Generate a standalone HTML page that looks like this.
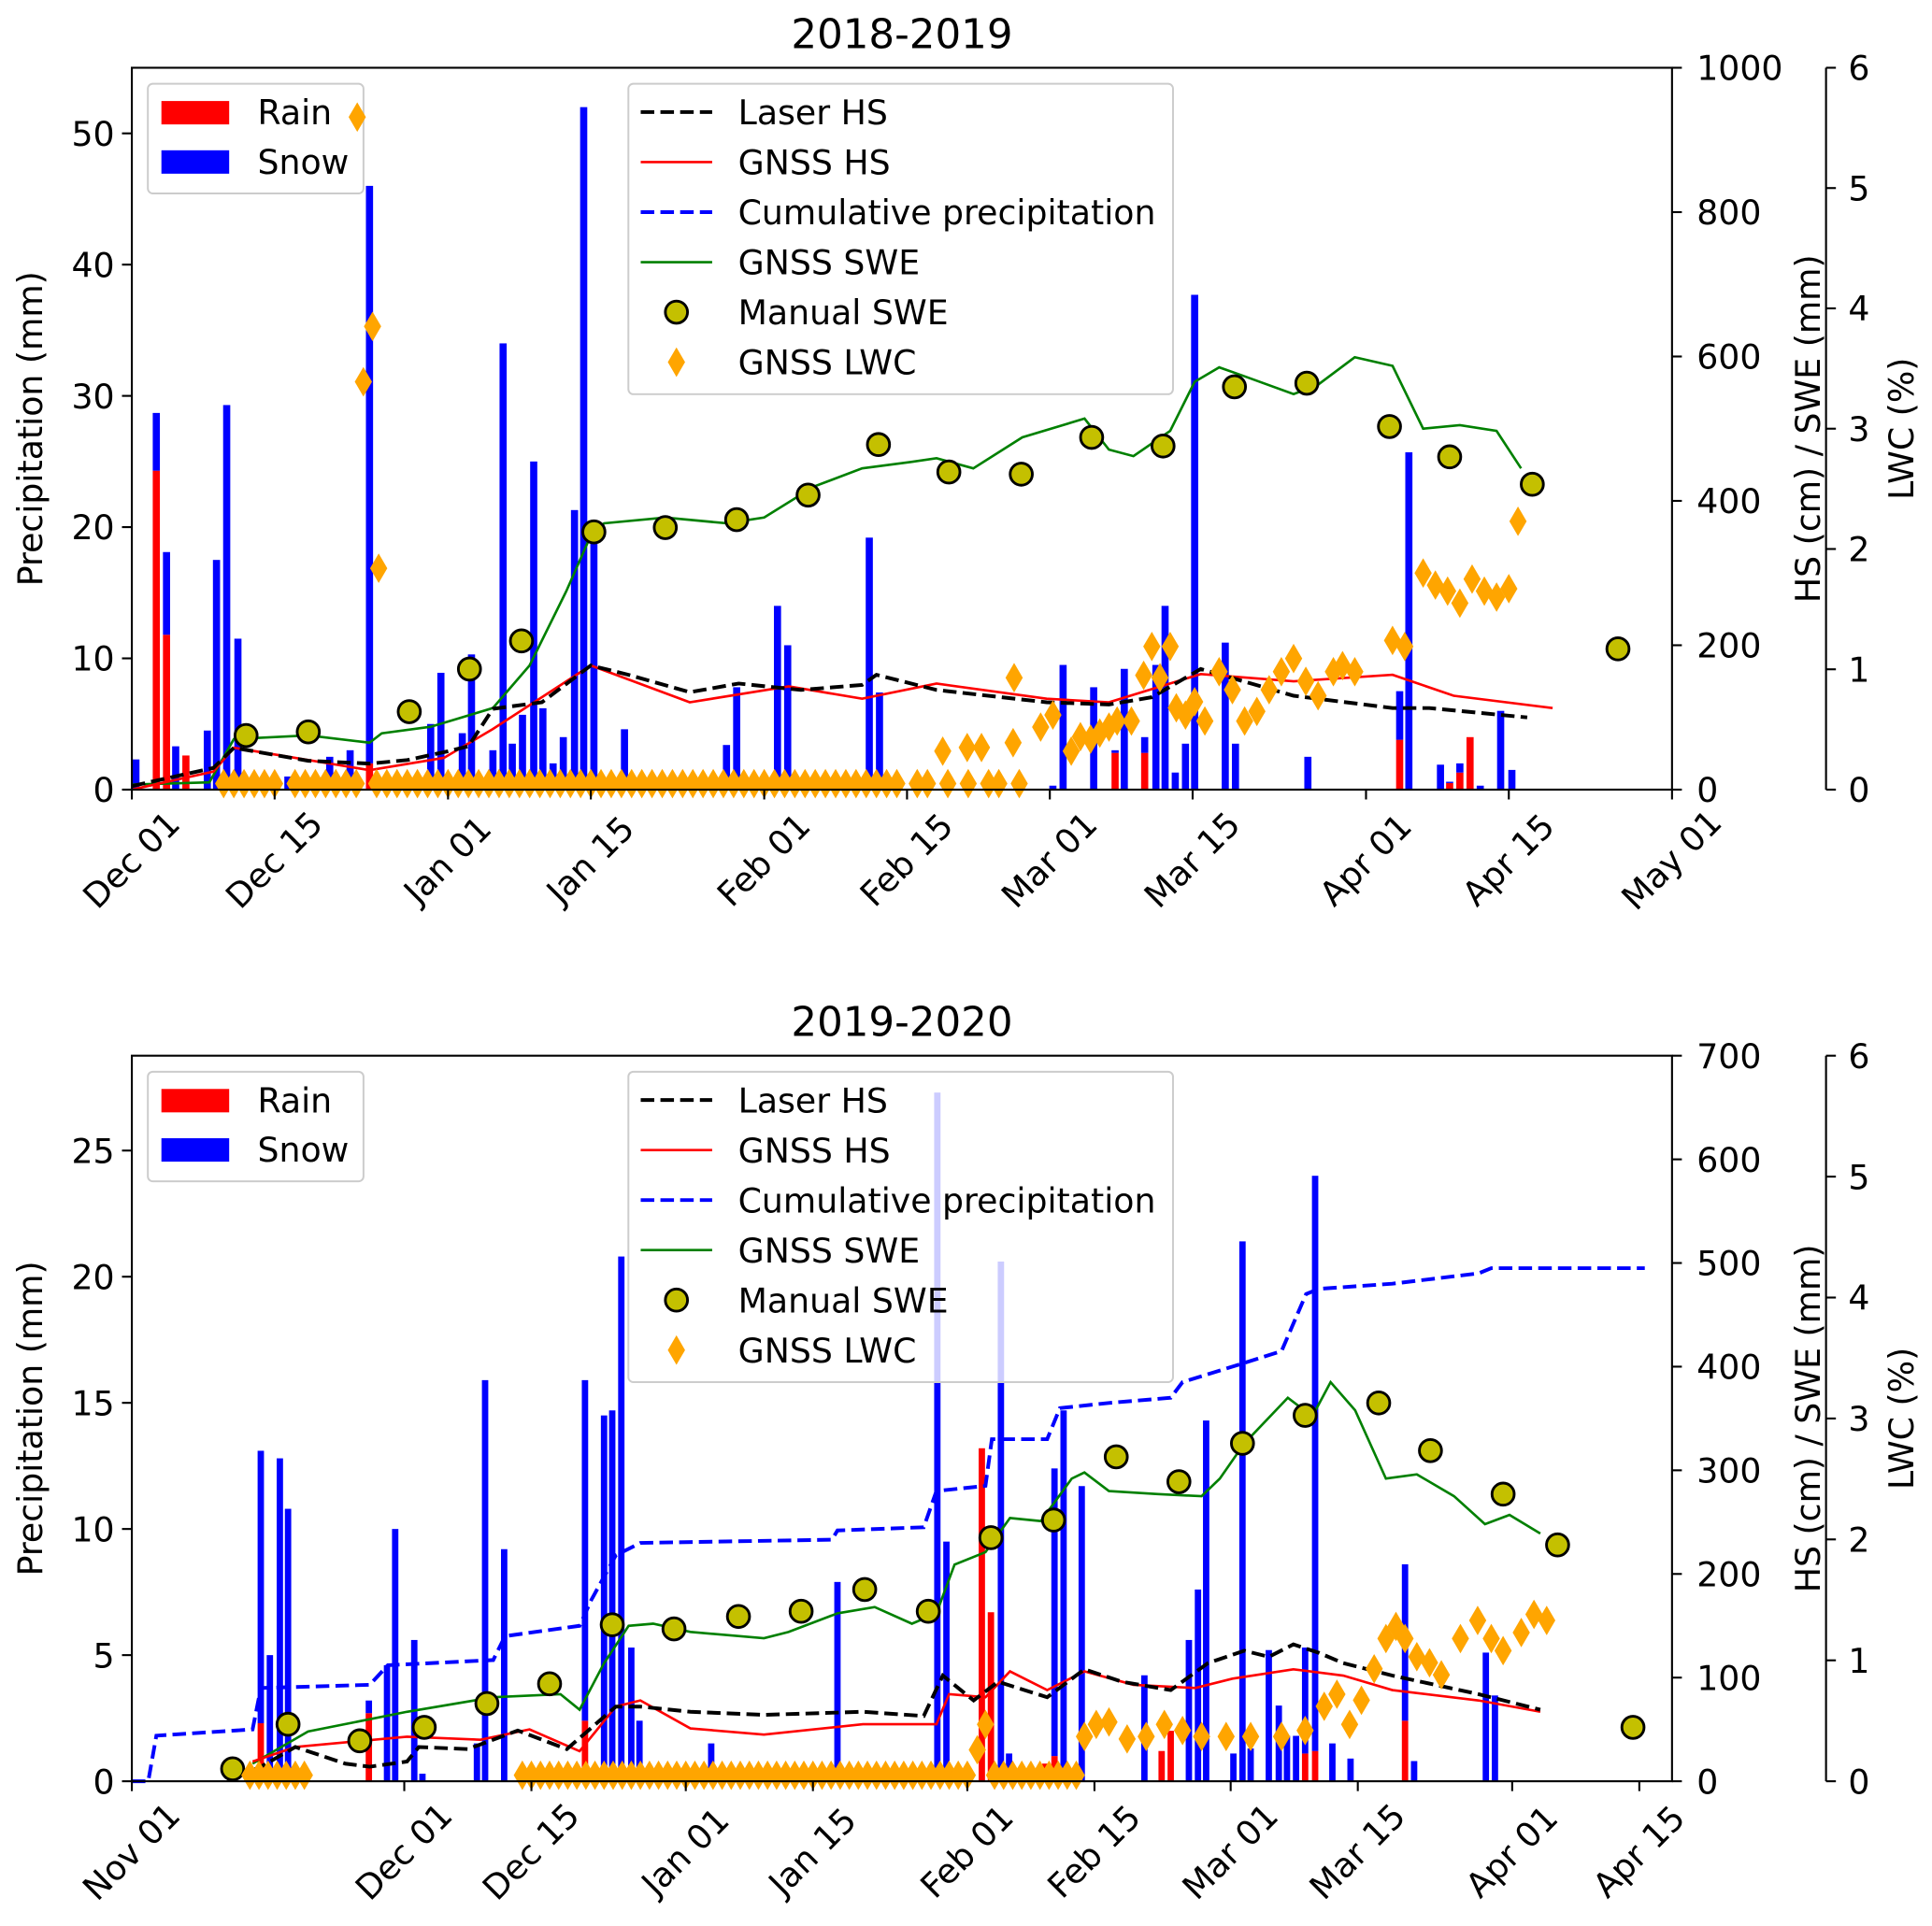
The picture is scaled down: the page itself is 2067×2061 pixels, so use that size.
<!DOCTYPE html>
<html><head><meta charset="utf-8">
<style>
html,body{margin:0;padding:0;background:#fff;}
svg{display:block;font-family:"DejaVu Sans","Liberation Sans",sans-serif;}
</style></head>
<body>
<svg id="chart" xmlns="http://www.w3.org/2000/svg" width="2067" height="2061" viewBox="0 0 1568 1563.5" preserveAspectRatio="none"></svg>
<script>
// ---------- TOP PANEL DATA (2018-2019), days since Dec 01 ----------
const topTickDays = [0,14,31,45,62,76,90,104,121,135,151];
const topTickLabels = ["Dec 01","Dec 15","Jan 01","Jan 15","Feb 01","Feb 15","Mar 01","Mar 15","Apr 01","Apr 15","May 01"];
const topLeftTicks = [0,10,20,30,40,50];
const topRightTicks = [0,200,400,600,800,1000];
const topBarDays = [0.4,2.4,3.4,4.3,5.3,7.4,8.3,9.3,10.4,15.3,19.4,21.4,23.3,29.3,30.3,32.4,33.3,35.4,36.4,37.3,38.3,39.4,40.3,41.3,42.3,43.4,44.3,45.3,48.3,56.3,58.3,59.3,63.3,64.3,65.3,72.3,73.3,90.3,91.3,94.3,96.4,97.3,99.3,100.4,101.3,102.3,103.3,104.2,107.2,108.2,115.3,124.3,125.2,128.3,129.2,130.2,131.2,132.2,134.2,135.3];
const topSnow = [2.3,4.4,6.3,3.3,0,4.5,17.5,29.3,11.5,1.0,2.5,3.0,44,5,8.9,4.3,10.3,3,34,3.5,5.7,25,6.2,2,4,21.3,52,19.5,4.6,0.8,3.4,7.8,14,11,0.5,19.2,7.4,0.3,9.5,7.8,0.2,9.2,1.2,9.5,14,1.3,3.5,37.7,11.2,3.5,2.5,3.7,25.7,1.9,0.1,0.7,0,0.3,6,1.5];
const topRain = [0,24.3,11.8,0,2.6,0,0,0,0,0,0,0,2,0,0,0,0,0,0,0,0,0,0,0,0,0,0,0,0,0,0,0,0,0,0,0,0,0,0,0,2.8,0,2.8,0,0,0,0,0,0,0,0,3.8,0,0,0.5,1.3,4,0,0,0];
const topLaserDays = [0,8,10,17.3,23.3,27,31,33,35.4,40.2,45,48.7,54.7,59.5,65.6,71.6,73,78.9,89.7,95.8,100,104.8,113.9,123.6,127.2,136.8];
const topLaserVals = [5,30,58,40,36,41,53,60,112,121,172,159,135,147,138,145,159,138,121,118,128,167,130,113,113,100];
const topGhsDays = [0,8,10,23.3,30.6,35.4,45,54.7,64.4,71.6,78.9,89.7,95.8,104.8,113.9,123.6,129.6,139.3];
const topGhsVals = [0,25,58,27,44,84,172,121,143,126,147,126,121,160,150,159,130,113];
const topSweDays = [0,7.6,10,17.3,23.3,24.5,29.3,35.4,39,42.6,45,46.3,52.3,58.3,62,66.9,71.6,76.4,78.9,82.5,87.3,93.4,95.8,98.2,101.8,104.2,106.6,109,113.9,116.3,119.9,123.6,126.6,130.2,133.8,136.2];
const topSweVals = [7,10,70,75,65,78,87,113,172,275,352,369,377,369,377,420,445,454,459,445,488,514,471,462,497,565,585,573,548,561,599,587,500,505,497,445];
const topManDays = [11.2,17.3,27.2,33.1,38.2,45.3,52.3,59.3,66.3,73.2,80.1,87.2,94.1,101.1,108.1,115.2,123.3,129.2,137.3,145.7];
const topManVals = [75,80,108,167,206,357,363,374,408,478,440,437,488,476,558,563,503,461,423,195];
const topLwcZeroDays = [9,10,11,12,13,14,16,17,18,19,20,21,22,24,25,26,27,28,29,30,31,32,33,34,35,36,37,38,39,40,41,42,43,44,45,46,47,48,49,50,51,52,53,54,55,56,57,58,59,60,61,62,63,64,65,66,67,68,69,70,71,72,73,74,75,77,78,80,82,84,85,87];
const topLwcDays = [22.1,23.6,22.7,24.2,79.5,81.9,83.3,86.4,86.5,89.1,90.3,92.1,93,94,94.9,95.8,96.6,98,99.2,100,100.8,101.8,102.4,103.3,104.2,105.2,106.6,107.9,109.1,110.3,111.5,112.7,113.9,115.1,116.3,117.8,118.7,119.9,123.6,124.8,126.6,127.8,129,130.2,131.4,132.6,133.8,135,135.9];
const topLwcVals = [5.59,3.85,3.39,1.84,0.32,0.35,0.35,0.39,0.93,0.52,0.62,0.32,0.44,0.42,0.47,0.52,0.57,0.57,0.95,1.19,0.93,1.19,0.68,0.62,0.73,0.57,0.98,0.83,0.57,0.65,0.83,0.98,1.09,0.9,0.78,0.98,1.03,0.98,1.24,1.19,1.8,1.7,1.65,1.55,1.75,1.65,1.6,1.67,2.23];

// ---------- BOTTOM PANEL DATA (2019-2020), days since Nov 01 ----------
const botTickDays = [0,30,44,61,75,92,106,121,135,152,166];
const botTickLabels = ["Nov 01","Dec 01","Dec 15","Jan 01","Jan 15","Feb 01","Feb 15","Mar 01","Mar 15","Apr 01","Apr 15"];
const botLeftTicks = [0,5,10,15,20,25];
const botRightTicks = [0,100,200,300,400,500,600,700];
const botBarDays = [14.2,15.2,16.3,17.2,26.1,28.1,29.0,31.1,32.0,38.0,38.9,41.0,44.0,49.9,52.0,52.9,53.9,55.0,55.9,63.8,64.9,77.7,88.7,89.7,93.6,94.6,95.7,96.6,100.6,101.6,102.6,104.6,111.5,113.4,114.4,116.4,117.4,118.3,121.3,122.3,123.2,125.2,126.3,127.2,128.2,129.2,130.3,132.2,134.2,140.2,141.2,149.1,150.1];
const botSnow = [10.8,5,12.8,10.8,0.5,4.6,10,5.6,0.3,1.5,15.9,9.2,0.4,13.5,14.5,14.7,20.8,5.3,2.4,1.5,0.5,7.9,27.3,9.5,0,0,20.6,1.1,0,11.4,14.7,11.7,4.2,0,0,5.6,7.6,14.3,1.1,21.4,1.3,5.2,3.0,1.8,1.8,4.2,22.8,1.5,0.9,6.2,0.8,5.1,3.4];
const botRain = [2.3,0,0,0,2.7,0,0,0,0,0,0,0,0,2.4,0,0,0,0,0,0,0,0,0,0,13.2,6.7,0,0,0.7,1,0,0,0,1.2,2,0,0,0,0,0,0,0,0,0,0,1.1,1.2,0,0,2.4,0,0,0];
const botCumDays = [0,1.8,2.7,13.3,14.2,26.2,28.2,39.8,41.1,49.3,50.6,53.3,56,77.1,77.7,87.2,88.6,94,94.7,100.8,102.2,107.6,114.4,115.7,121.2,126.6,129.3,130.7,138.8,148.3,149.7,166.6];
const botCumVals = [0,0,44,50,90,93,112,117,140,150,175,218,230,233,242,245,280,285,330,330,360,365,370,385,400,415,470,475,480,490,495,495];
const botSweDays = [13.3,19.4,30.3,39.8,47.2,49.3,52,54.7,57.4,61.5,69.6,72.3,77.7,81.8,85.9,88.6,90.6,94,96.7,100.1,103.5,104.9,107.6,113,117.8,119.8,122.5,127.3,130,132,134.7,138.1,141.5,145.6,149,151.7,155.1];
const botSweVals = [17,48,67,81,84,69,114,150,152,144,138,144,162,168,152,162,209,221,254,251,292,298,280,277,275,292,326,370,352,385,358,292,296,275,248,257,239];
const botManDays = [11.1,17.2,25.1,32.2,39.1,46,52.9,59.7,66.8,73.7,80.7,87.7,94.6,101.5,108.4,115.3,122.3,129.2,137.3,143,151,157,165.3];
const botManVals = [12,55,39,52,75,94,151,147,159,164,185,164,235,252,313,289,326,353,365,319,277,228,52];
const botLaserDays = [11.3,14,18,23.5,26.2,30.3,31.6,37,42.5,47.9,53.3,56,61.5,69.6,80.5,87.2,89.3,92.7,95.4,100.8,104.9,109,114.4,118.5,122.5,125.2,127.9,130.7,133.4,138.8,148.3,155.1];
const botLaserVals = [5,13,33,17,14,19,33,31,49,31,72,72,67,64,67,63,102,78,96,81,108,96,88,114,126,120,132,124,114,102,84,69];
const botGhsDays = [13.3,18,30.3,38.4,43.8,49.3,53.3,56,61.5,69.6,80.5,88.6,90,94,96.7,100.8,104.9,110.3,117.1,121.2,127.9,133.4,138.8,148.3,155.1];
const botGhsVals = [19,33,43,40,50,29,72,78,51,45,55,55,84,81,106,88,106,93,90,99,108,102,88,78,67];
const botLwcZeroDays = [13,14,15,16,17,18,19,43,44,45,46,47,48,49,50,51,52,53,54,55,56,57,58,59,60,61,62,63,64,65,66,67,68,69,70,71,72,73,74,75,76,77,78,79,80,81,82,83,84,85,86,87,88,89,90,91,92,95,96,97,98,99,100,101,102,103,104];
const botLwcDays = [93.1,94,104.9,106.2,107.6,109.6,111.7,113.7,115.7,117.8,120.5,123.2,126.6,129.2,131.3,132.7,134.1,135.4,136.8,138.1,139.2,140.2,141.5,142.9,144.2,146.3,148.2,149.7,151,153,154.4,155.8];
const botLwcVals = [0.26,0.47,0.37,0.47,0.49,0.35,0.37,0.47,0.42,0.37,0.37,0.37,0.37,0.42,0.62,0.72,0.47,0.67,0.93,1.18,1.28,1.18,1.03,0.98,0.88,1.18,1.33,1.18,1.08,1.23,1.38,1.33];

const lwcTicks = [0,1,2,3,4,5,6];

const NS = "http://www.w3.org/2000/svg";
const svg = document.getElementById('chart');
const FS = 27.5;
function el(tag, attrs, parent){
  const e = document.createElementNS(NS, tag);
  for (const k in attrs) e.setAttribute(k, attrs[k]);
  (parent||svg).appendChild(e);
  return e;
}
function txt(s, attrs, parent){ const t = el('text', attrs, parent); t.textContent = s; return t; }

function drawPanel(P){
  const g = el('g', {});
  
  
  const xS = d => P.x0 + d/P.dayMax*(P.x1-P.x0);
  const yL = v => P.yB - v/P.leftMax*(P.yB-P.yT);
  const yR = v => P.yB - v/P.rightMax*(P.yB-P.yT);
  const yW = v => P.yB - v/6*(P.yB-P.yT);
  const bw = 0.7/P.dayMax*(P.x1-P.x0);

  const bars = el('g', {}, g);
  
  
  for (let i=0;i<P.barDays.length;i++){
    const cx = xS(P.barDays[i]);
    const r = P.rain[i], s = P.snow[i];
    if (r>0){
      const b = el('rect', {x:cx-bw/2, y:yL(r), width:bw, height:yL(0)-yL(r), fill:'#ff0000'}, bars);
      
      
    }
    if (s>0){
      const b = el('rect', {x:cx-bw/2, y:yL(r+s), width:bw, height:yL(r)-yL(r+s), fill:'#0000ff'}, bars);
      
      
    }
  }
  const l1 = el('g', {}, g);
  
  
  el('rect', {x:120, y:P.yT+13, width:175, height:89, rx:4, fill:'#fff', 'fill-opacity':0.8, stroke:'#cccccc', 'stroke-width':1.5}, l1);
  const names1 = ['Rain','Snow'], cols1 = ['#ff0000','#0000ff'];
  for (let i=0;i<2;i++){
    const yy = P.yT+36+i*40;
    el('rect', {x:131, y:yy-9, width:55, height:19, fill:cols1[i]}, l1);
    const t = txt(names1[i], {x:209, y:yy+10, 'font-size':FS, fill:'#000'}, l1);
    
    
  }

  function poly(days, vals, ys, attrs, name){
    const pts = days.map((d,i)=> xS(d).toFixed(1)+','+ys(vals[i]).toFixed(1)).join(' ');
    const p = el('polyline', Object.assign({points:pts, fill:'none'}, attrs), g);
    
    
  }
  if (P.cumDays) poly(P.cumDays, P.cumVals, yR, {stroke:'#0000ff','stroke-width':3,'stroke-dasharray':'11,5'}, 'cumulative-precipitation-line');
  poly(P.sweDays, P.sweVals, yR, {stroke:'#008000','stroke-width':2}, 'gnss-swe-line');
  poly(P.ghsDays, P.ghsVals, yR, {stroke:'#ff0000','stroke-width':2}, 'gnss-hs-line');
  poly(P.laserDays, P.laserVals, yR, {stroke:'#000','stroke-width':3,'stroke-dasharray':'11,5'}, 'laser-hs-line');

  for (let i=0;i<P.manDays.length;i++){
    const c = el('circle', {cx:xS(P.manDays[i]), cy:yR(P.manVals[i]), r:9, fill:'#c4c000', stroke:'#000', 'stroke-width':2.2}, g);
    
    
  }
  const dia = (d,v)=>{
    const x = xS(d), y = yW(v);
    const p = el('polygon', {points:`${x},${y-12} ${x+7},${y} ${x},${y+12} ${x-7},${y}`, fill:'#ffa500'}, g);
    
    
  };
  P.lwcZeroDays.forEach(d=>dia(d, 0.05));
  for (let i=0;i<P.lwcDays.length;i++) dia(P.lwcDays[i], P.lwcVals[i]);

  const fr = el('rect', {x:P.x0, y:P.yT, width:P.x1-P.x0, height:P.yB-P.yT, fill:'none', stroke:'#000', 'stroke-width':1.6}, g);
  
  
  el('line', {x1:1482, y1:P.yT, x2:1482, y2:P.yB, stroke:'#000', 'stroke-width':1.6}, g);

  const xa = el('g', {}, g);
  
  
  for (let i=0;i<P.tickDays.length;i++){
    const x = xS(P.tickDays[i]);
    el('line', {x1:x, y1:P.yB, x2:x, y2:P.yB+8, stroke:'#000','stroke-width':1.6}, xa);
    const cy = P.yB+56;
    txt(P.tickLabels[i], {x:x-1, y:cy+10, 'font-size':FS, 'text-anchor':'middle', transform:`rotate(-45 ${x} ${cy})`}, xa);
  }
  const ya = el('g', {}, g);
  
  
  P.leftTicks.forEach(v=>{
    const y = yL(v);
    el('line', {x1:P.x0-8, y1:y, x2:P.x0, y2:y, stroke:'#000','stroke-width':1.6}, ya);
    txt(String(v), {x:P.x0-14, y:y+10, 'font-size':FS, 'text-anchor':'end'}, ya);
  });
  const lt = txt('Precipitation (mm)', {x:0, y:0, 'font-size':FS, 'text-anchor':'middle', transform:`translate(34 ${(P.yT+P.yB)/2}) rotate(-90)`}, g);
  
  
  const yr = el('g', {}, g);
  
  
  P.rightTicks.forEach(v=>{
    const y = yR(v);
    el('line', {x1:P.x1, y1:y, x2:P.x1+8, y2:y, stroke:'#000','stroke-width':1.6}, yr);
    txt(String(v), {x:P.x1+20, y:y+10, 'font-size':FS}, yr);
  });
  const rt = txt('HS (cm) / SWE (mm)', {x:0, y:0, 'font-size':FS, 'text-anchor':'middle', transform:`translate(1477 ${(P.yT+P.yB)/2}) rotate(-90)`}, g);
  
  
  const yw = el('g', {}, g);
  
  
  lwcTicks.forEach(v=>{
    const y = yW(v);
    el('line', {x1:1482, y1:y, x2:1490, y2:y, stroke:'#000','stroke-width':1.6}, yw);
    txt(String(v), {x:1500, y:y+10, 'font-size':FS}, yw);
  });
  const wt = txt('LWC (%)', {x:0, y:0, 'font-size':FS, 'text-anchor':'middle', transform:`translate(1553 ${(P.yT+P.yB)/2}) rotate(-90)`}, g);
  
  
  const tt = txt(P.title, {x:(P.x0+P.x1)/2, y:P.yT-16, 'font-size':33, 'text-anchor':'middle'}, g);
  
  

  const l2 = el('g', {}, g);
  
  
  el('rect', {x:510, y:P.yT+13, width:442, height:252, rx:4, fill:'#fff', 'fill-opacity':0.8, stroke:'#cccccc', 'stroke-width':1.5}, l2);
  const names2 = ['Laser HS','GNSS HS','Cumulative precipitation','GNSS SWE','Manual SWE','GNSS LWC'];
  for (let i=0;i<6;i++){
    const yy = P.yT+36+i*40.6;
    if (i===0) el('line',{x1:520,y1:yy,x2:578,y2:yy,stroke:'#000','stroke-width':3,'stroke-dasharray':'11,5'},l2);
    if (i===1) el('line',{x1:520,y1:yy,x2:578,y2:yy,stroke:'#ff0000','stroke-width':2},l2);
    if (i===2) el('line',{x1:520,y1:yy,x2:578,y2:yy,stroke:'#0000ff','stroke-width':3,'stroke-dasharray':'11,5'},l2);
    if (i===3) el('line',{x1:520,y1:yy,x2:578,y2:yy,stroke:'#008000','stroke-width':2},l2);
    if (i===4) el('circle',{cx:549,cy:yy,r:9,fill:'#c4c000',stroke:'#000','stroke-width':2.2},l2);
    if (i===5) el('polygon',{points:`549,${yy-12} 556,${yy} 549,${yy+12} 542,${yy}`,fill:'#ffa500'},l2);
    const t = txt(names2[i], {x:599, y:yy+10, 'font-size':FS}, l2);
    
    
  }
}

drawPanel({name:'panel-2018-2019', title:'2018-2019', x0:107, x1:1357, yT:55, yB:641, dayMax:151, leftMax:55, rightMax:1000,
  tickDays:topTickDays, tickLabels:topTickLabels, leftTicks:topLeftTicks, rightTicks:topRightTicks,
  barDays:topBarDays, snow:topSnow, rain:topRain,
  laserDays:topLaserDays, laserVals:topLaserVals, ghsDays:topGhsDays, ghsVals:topGhsVals,
  sweDays:topSweDays, sweVals:topSweVals, manDays:topManDays, manVals:topManVals,
  lwcZeroDays:topLwcZeroDays, lwcDays:topLwcDays, lwcVals:topLwcVals});

drawPanel({name:'panel-2019-2020', title:'2019-2020', x0:107, x1:1357, yT:857, yB:1446, dayMax:169.6, leftMax:28.76, rightMax:700,
  tickDays:botTickDays, tickLabels:botTickLabels, leftTicks:botLeftTicks, rightTicks:botRightTicks,
  barDays:botBarDays, snow:botSnow, rain:botRain, cumDays:botCumDays, cumVals:botCumVals,
  laserDays:botLaserDays, laserVals:botLaserVals, ghsDays:botGhsDays, ghsVals:botGhsVals,
  sweDays:botSweDays, sweVals:botSweVals, manDays:botManDays, manVals:botManVals,
  lwcZeroDays:botLwcZeroDays, lwcDays:botLwcDays, lwcVals:botLwcVals});
</script>
</body></html>
